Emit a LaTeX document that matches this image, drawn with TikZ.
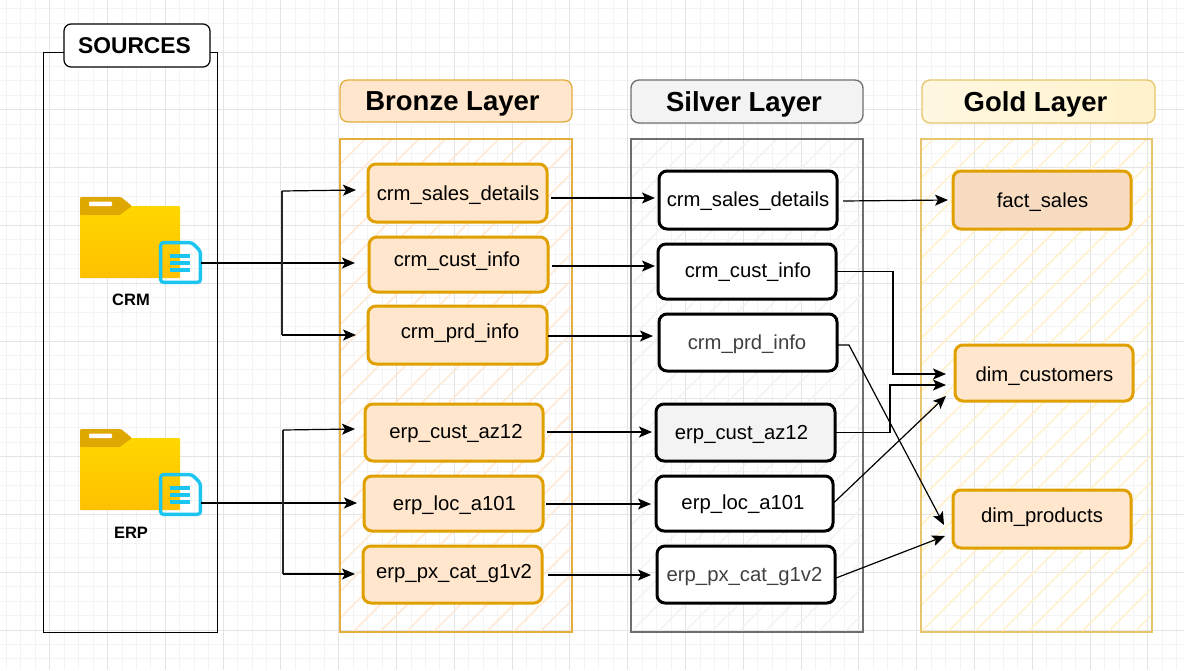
\documentclass[tikz,border=0pt]{standalone}
\usepackage{fontspec}
\setmainfont{Liberation Sans}
\usetikzlibrary{arrows.meta,calc}
\definecolor{gmin}{HTML}{F4F4F4}
\definecolor{gmaj}{HTML}{E4E4E4}
\definecolor{bronzeline}{HTML}{DFA000}
\definecolor{headline}{HTML}{E3AE3C}
\definecolor{bronzefill}{HTML}{FFE6CC}
\definecolor{factfill}{HTML}{F7DCC2}
\definecolor{bronzehatch}{HTML}{FFE9D4}
\definecolor{silverhatch}{HTML}{F3F3F3}
\definecolor{goldhatch}{HTML}{FFF2CC}
\definecolor{goldline}{HTML}{E6C56C}
\definecolor{silverline}{HTML}{6E6E6E}
\definecolor{docblue}{HTML}{1CC4F0}
\definecolor{tabgold}{HTML}{DFA800}
\definecolor{foldertop}{HTML}{FFD700}
\definecolor{folderbot}{HTML}{FFC000}
\tikzset{
  every node/.style={inner sep=0pt,outer sep=0pt,font=\fontsize{20.3}{24}\selectfont},
  bronzebox/.style={draw=bronzeline,line width=3pt,fill=bronzefill,rounded corners=8pt},
  factbox/.style={bronzebox,fill=factfill},
  silverbox/.style={draw=black,line width=3pt,fill=white,rounded corners=8pt},
  greybox/.style={silverbox,fill=silverhatch},
  headbox/.style={line width=1.3pt,rounded corners=8pt,font=\fontsize{27.5}{32}\selectfont\bfseries},
  conn/.style={line width=1.2pt,draw=black,-{Stealth[length=13pt,width=11pt,inset=3pt]}},
  plain/.style={line width=1.2pt,draw=black!85},
  srclabel/.style={font=\fontsize{16.5}{20}\selectfont\bfseries}
}
% text placed dx right of the node centre, with its baseline dy below the centre
\newcommand{\nt}[3]{\raisebox{-#2pt}[0pt][0pt]{\hspace*{#1pt}\makebox[0pt]{#3}\hspace*{-#1pt}}}
\newcommand{\hatchfill}[6]{%
  \begin{scope}
    \clip (#1,#2) rectangle (#3,#4);
    \foreach \k in {-20,...,40}{
      \draw[#5,line width=1.5pt] ({#1+#6+\k*26.7},#4) -- ++({#4-#2},{#2-#4});
    }
  \end{scope}}
\newcommand{\folder}[3]{% x offset, y offset, name
  \begin{scope}[shift={(#1,#2)}]
    \path[top color=foldertop,bottom color=folderbot,rounded corners=1pt]
      (80,206) rectangle (180,278);
    \fill[tabgold,rounded corners=1pt] (80,215) -- (80,197) -- (121,197) -- (132,206) -- (120,215) -- cycle;
    \fill[white,rounded corners=1pt] (89,201.5) rectangle (112,206);
    \draw[docblue,line width=3.4pt,rounded corners=3pt] (160.6,242.6) -- (192,242.6) -- (200.4,251) -- (200.4,282.4) -- (160.6,282.4) -- cycle;
    \draw[docblue,line width=3.2pt] (170,256) -- (190,256) (170,263) -- (190,263) (170,270) -- (190,270);
    \coordinate (#3) at (201,263);
  \end{scope}}
\begin{document}
\begin{tikzpicture}[x=1pt,y=-1pt]
\useasboundingbox (0,0) rectangle (1184,670);
\fill[white] (0,0) rectangle (1184,670);
% grid
\foreach \i in {0,...,84}{
  \pgfmathsetmacro{\gx}{-8.1+14.45*\i}
  \draw[gmin,line width=.9pt] (\gx,0) -- (\gx,670);
}
\foreach \i in {0,...,48}{
  \pgfmathsetmacro{\gy}{-5.8+14.45*\i}
  \draw[gmin,line width=.9pt] (0,\gy) -- (1184,\gy);
}
\foreach \i in {0,...,21}{
  \pgfmathsetmacro{\gx}{-8.1+57.8*\i}
  \draw[gmaj,line width=.9pt] (\gx,0) -- (\gx,670);
}
\foreach \i in {0,...,12}{
  \pgfmathsetmacro{\gy}{-5.8+57.8*\i}
  \draw[gmaj,line width=.9pt] (0,\gy) -- (1184,\gy);
}
% containers
\hatchfill{340}{139}{572}{632}{bronzehatch}{13}
\hatchfill{631}{139}{863}{632}{silverhatch}{0}
\hatchfill{921}{139}{1152}{632}{goldhatch}{0}
\node[draw=black,line width=1pt,minimum width=174pt,minimum height=580pt] (srcframe) at (130,342) {};
\node[draw=headline,line width=1.3pt,minimum width=232pt,minimum height=493pt] (bronzeframe) at (456,385.5) {};
\node[draw=silverline,line width=1.3pt,minimum width=232pt,minimum height=493pt] (silverframe) at (747,385.5) {};
\node[draw=goldline,line width=1.3pt,minimum width=231pt,minimum height=493pt] (goldframe) at (1036.5,385.5) {};
% headers
\node[draw=black,fill=white,line width=1.2pt,rounded corners=7pt,minimum width=146pt,minimum height=43pt,font=\fontsize{22.8}{28}\selectfont\bfseries] (srctitle) at (137,45.5) {\nt{-2.5}{7.5}{SOURCES}};
\node[headbox,draw=headline,fill=bronzefill,minimum width=232pt,minimum height=42pt] (bronzehead) at (456,101) {\nt{-3.5}{9.5}{Bronze Layer}};
\node[headbox,draw=silverline,fill=silverhatch,minimum width=232pt,minimum height=43pt] (silverhead) at (747,101.5) {\nt{-3}{9.5}{Silver Layer}};
\node[headbox,draw=goldline,left color=goldhatch!60,right color=goldhatch,minimum width=233pt,minimum height=43pt] (goldhead) at (1038.5,101.5) {\nt{-3}{9.5}{Gold Layer}};
% folders
\folder{0}{0}{crmdoc}
\folder{0}{232}{erpdoc}
\node[srclabel] (crmlabel) at (131,300) {CRM};
\node[srclabel] (erplabel) at (131,532.5) {ERP};
% bronze
\node[bronzebox,minimum width=179pt,minimum height=58pt] (b1) at (457.5,193) {\nt{0.5}{7}{crm\_sales\_details}};
\node[bronzebox,minimum width=179pt,minimum height=55pt] (b2) at (458.5,264.5) {\nt{-1.5}{2}{crm\_cust\_info}};
\node[bronzebox,minimum width=179pt,minimum height=58pt] (b3) at (457.5,335) {\nt{2.5}{3.5}{crm\_prd\_info}};
\node[bronzebox,minimum width=178pt,minimum height=57pt] (b4) at (454,432.5) {\nt{2}{6}{erp\_cust\_az12}};
\node[bronzebox,minimum width=179pt,minimum height=55pt] (b5) at (453.5,503.5) {\nt{1}{7}{erp\_loc\_a101}};
\node[bronzebox,minimum width=179pt,minimum height=57pt] (b6) at (452.5,574.5) {\nt{1.5}{4}{erp\_px\_cat\_g1v2}};
% silver
\node[silverbox,minimum width=178pt,minimum height=58pt] (s1) at (748,200) {\nt{0}{6.5}{crm\_sales\_details}};
\node[silverbox,minimum width=178pt,minimum height=55pt] (s2) at (747,271.5) {\nt{1}{6}{crm\_cust\_info}};
\node[silverbox,minimum width=178pt,minimum height=57pt,text=black!75] (s3) at (748,342.5) {\nt{-1}{6.5}{crm\_prd\_info}};
\node[greybox,minimum width=179pt,minimum height=57pt] (s4) at (745.5,432.5) {\nt{-4}{6.5}{erp\_cust\_az12}};
\node[silverbox,minimum width=177pt,minimum height=55pt] (s5) at (744.5,503.5) {\nt{-1.5}{6}{erp\_loc\_a101}};
\node[silverbox,minimum width=178pt,minimum height=57pt,text=black!75] (s6) at (746,574.5) {\nt{-1.5}{6.5}{erp\_px\_cat\_g1v2}};
% gold
\node[factbox,minimum width=178pt,minimum height=58pt] (g1) at (1042,200) {\nt{0.5}{7}{fact\_sales}};
\node[bronzebox,minimum width=178pt,minimum height=56pt] (g2) at (1044,373) {\nt{0.5}{8}{dim\_customers}};
\node[bronzebox,minimum width=178pt,minimum height=58pt] (g3) at (1042,519) {\nt{0}{3}{dim\_products}};
% source connectors
\draw[conn] (crmdoc) -- ([shift={(-14,-1.5)}]b2.west);
\draw[plain] (282,263) -- (282,191);
\draw[conn] (282,191) -- ([shift={(-12,-3)}]b1.west);
\draw[plain] (282,263) -- (282,335);
\draw[conn] (282,335) -- ([shift={(-12,0)}]b3.west);
\draw[conn] ([yshift=-8]erpdoc) -- ([shift={(-7,-0.5)}]b5.west);
\draw[plain] (283,503) -- (283,430);
\draw[conn] (283,430) -- ([shift={(-10,-3.5)}]b4.west);
\draw[plain] (283,503) -- (283,574);
\draw[conn] (283,574) -- ([shift={(-8,-0.5)}]b6.west);
% bronze to silver
\draw[conn] ([shift={(4,5)}]b1.east) -- ([shift={(-4,-2)}]s1.west);
\draw[conn] ([shift={(4,1.5)}]b2.east) -- ([shift={(-3,-5.5)}]s2.west);
\draw[conn] ([shift={(1,1)}]b3.east) -- ([shift={(-6,-6.5)}]s3.west);
\draw[conn] ([shift={(4,-0.5)}]b4.east) -- ([shift={(-4,-0.5)}]s4.west);
\draw[conn] ([shift={(3,0.5)}]b5.east) -- ([shift={(-5,0.5)}]s5.west);
\draw[conn] ([shift={(6,0.5)}]b6.east) -- ([shift={(-6,0.5)}]s6.west);
% silver to gold
\draw[conn] ([shift={(6,1)}]s1.east) -- ([shift={(-5,0)}]g1.west);
\draw[conn] (s2.east) -- (893,271.5) -- (893,374) -- ([shift={(-9,1)}]g2.west);
\draw[conn] (s4.east) -- (890,432.5) -- (890,385) -- ([shift={(-9,12)}]g2.west);
\draw[conn] (s5.east) -- ([shift={(-9,23)}]g2.west);
\draw[conn] ([shift={(0,2.5)}]s3.east) -- (849,345) -- ([shift={(-9,6)}]g3.west);
\draw[conn] ([shift={(1,3.5)}]s6.east) -- ([shift={(-8,17)}]g3.west);
\end{tikzpicture}
\end{document}
